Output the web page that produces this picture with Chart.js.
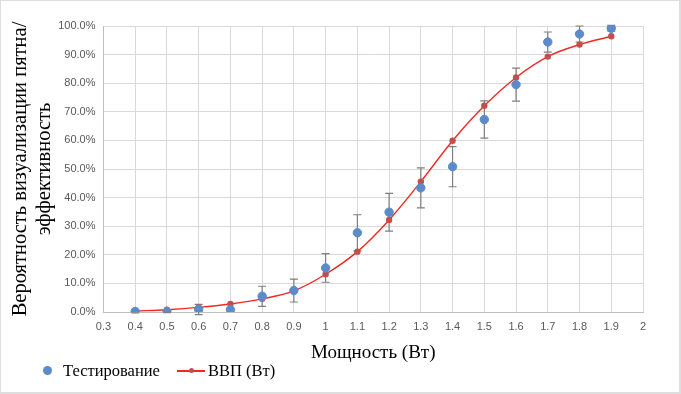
<!DOCTYPE html>
<html>
<head>
<meta charset="utf-8">
<script src="https://cdn.jsdelivr.net/npm/chart.js@4.4.0/dist/chart.umd.min.js"></script>
<style>
  body { margin: 0; background: #fff; }
  #wrap { position: relative; width: 681px; height: 394px; box-sizing: border-box; border: 2px solid #dedede; border-top-width: 1px; border-left-width: 1px; }
  #chart { position: absolute; left: 0; top: 0; }
  .legend { position: absolute; top: 359px; font-family: "Liberation Serif", serif; font-size: 16.5px; color: #000; line-height: 22px; }
  .dot { position: absolute; width: 9px; height: 9px; border-radius: 50%; background: #5b8bc9; }
  .line { position: absolute; width: 28px; height: 1.5px; background: #ee2a22; }
  .mdot { position: absolute; width: 5px; height: 5px; border-radius: 50%; background: #c0504d; }
</style>
</head>
<body>
<div id="wrap">
  <canvas id="chart" width="679" height="391"></canvas>
  <span class="dot" style="left:42px; top:365px;"></span>
  <span class="legend" style="left:62px;">Тестирование</span>
  <span class="line" style="left:176px; top:369px;"></span>
  <span class="mdot" style="left:188px; top:367px;"></span>
  <span class="legend" style="left:207px;">ВВП (Вт)</span>
</div>
<script>
const powerX = [0.4, 0.5, 0.6, 0.7, 0.8, 0.9, 1.0, 1.1, 1.2, 1.3, 1.4, 1.5, 1.6, 1.7, 1.8, 1.9];
const testing = [0.2, 0.1, 0.9, 0.8, 5.5, 7.5, 15.4, 27.7, 34.9, 43.4, 50.8, 67.3, 79.5, 94.4, 97.2, 99.2];
const testingErr = [0.5, 0.3, 1.8, 0, 3.5, 4.0, 5.0, 6.3, 6.6, 7.0, 7.0, 6.5, 5.8, 3.5, 2.8, 1.0];
const vvp = [0.35, 0.8, 1.6, 2.8, 4.6, 7.4, 13.2, 21.1, 32.2, 45.6, 59.9, 72.1, 82.0, 89.3, 93.5, 96.4];
const xTickLabels = ['0.3', '0.4', '0.5', '0.6', '0.7', '0.8', '0.9', '1', '1.1', '1.2', '1.3', '1.4', '1.5', '1.6', '1.7', '1.8', '1.9', '2'];

const tickFont = { family: 'Liberation Sans', size: 11 };

// error bars for the testing series, drawn under the points
const errorBars = {
    id: 'errorBars',
    beforeDatasetsDraw(chart) {
        const { ctx, scales: { x, y } } = chart;
        ctx.save();
        ctx.strokeStyle = '#7f7f7f';
        ctx.lineWidth = 1.2;
        powerX.forEach((p, i) => {
            if (!testingErr[i]) return;
            const px = x.getPixelForValue(p);
            const top = y.getPixelForValue(testing[i] + testingErr[i]);
            const bot = y.getPixelForValue(testing[i] - testingErr[i]);
            ctx.beginPath();
            ctx.moveTo(px, top); ctx.lineTo(px, bot);
            ctx.moveTo(px - 4, top); ctx.lineTo(px + 4, top);
            ctx.moveTo(px - 4, bot); ctx.lineTo(px + 4, bot);
            ctx.stroke();
        });
        ctx.restore();
    }
};

new Chart(document.getElementById('chart'), {
    data: {
        datasets: [{
            type: 'scatter',
            label: 'Тестирование',
            data: powerX.map((p, i) => ({ x: p, y: testing[i] })),
            backgroundColor: '#5b8bc9',
            borderColor: '#5b8bc9',
            pointRadius: 4.2,
            order: 1
        }, {
            type: 'line',
            label: 'ВВП (Вт)',
            data: powerX.map((p, i) => ({ x: p, y: vvp[i] })),
            borderColor: '#ee2a22',
            borderWidth: 1.4,
            backgroundColor: '#c0504d',
            pointBackgroundColor: '#c0504d',
            pointBorderColor: '#c0504d',
            pointRadius: 2.5,
            tension: 0.35,
            order: 2
        }]
    },
    plugins: [errorBars],
    options: {
        responsive: false,
        animation: false,
        layout: { padding: { left: 6, right: 37, top: 25, bottom: 28 } },
        plugins: { legend: { display: false }, tooltip: { enabled: false } },
        scales: {
            x: {
                type: 'linear',
                min: 0.3,
                max: 2,
                ticks: {
                    stepSize: 0.1,
                    font: tickFont,
                    color: '#595959',
                    maxRotation: 0,
                    padding: 8,
                    callback: (v, i) => xTickLabels[i]
                },
                grid: { color: '#d9d9d9', tickLength: 0 },
                border: { color: '#bfbfbf' },
                title: { display: true, text: 'Мощность (Вт)', font: { family: 'Liberation Serif', size: 19 }, color: '#000', padding: { top: 0, bottom: 0 } }
            },
            y: {
                min: 0,
                max: 100,
                ticks: {
                    stepSize: 10,
                    font: tickFont,
                    color: '#595959',
                    padding: 8,
                    callback: v => v.toFixed(1) + '%'
                },
                grid: { color: '#d9d9d9', tickLength: 0 },
                border: { color: '#bfbfbf' },
                title: {
                    display: true,
                    text: ['Вероятность визуализации пятна/', 'эффективность'],
                    font: { family: 'Liberation Serif', size: 20.5, lineHeight: 1.15 },
                    color: '#000',
                    padding: { top: 2, bottom: -6 }
                }
            }
        }
    }
});
</script>
</body>
</html>
